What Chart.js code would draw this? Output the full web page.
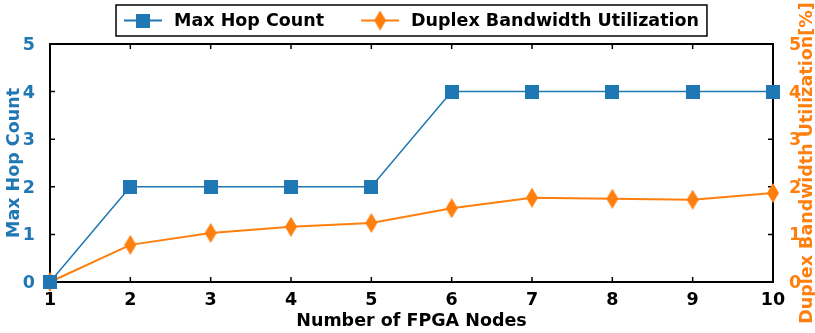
<!DOCTYPE html>
<html>
<head>
<meta charset="utf-8">
<script src="https://cdn.jsdelivr.net/npm/chart.js@4.4.0/dist/chart.umd.min.js"></script>
<style>
  body { margin: 0; background: #fff; }
  #wrap { width: 815px; height: 333px; }
</style>
</head>
<body>
<div id="wrap"><canvas id="hopChart"></canvas></div>
<script>
// data
const nodes = ['1', '2', '3', '4', '5', '6', '7', '8', '9', '10'];
const hopCount = [0, 2, 2, 2, 2, 4, 4, 4, 4, 4];
const bwUtil = [0, 0.78, 1.03, 1.16, 1.24, 1.55, 1.77, 1.75, 1.73, 1.87];
const yTicks = [0, 1, 2, 3, 4, 5];

const BLUE = '#1f77b4';
const ORANGE = '#ff7f0e';
const FONT = 'DejaVu Sans';
const FS = 17.5;

// markers: square and thin diamond (matplotlib 's' and 'd')
function squareMarker(size, color) {
  const c = document.createElement('canvas');
  c.width = size; c.height = size;
  const g = c.getContext('2d');
  g.fillStyle = color;
  g.fillRect(0, 0, size, size);
  return c;
}
function diamondMarker(w, h, color) {
  const c = document.createElement('canvas');
  c.width = w; c.height = h;
  const g = c.getContext('2d');
  g.fillStyle = color;
  g.beginPath();
  g.moveTo(w / 2, 0);
  g.lineTo(w, h / 2);
  g.lineTo(w / 2, h);
  g.lineTo(0, h / 2);
  g.closePath();
  g.fill();
  return c;
}
const sq = squareMarker(14, BLUE);
const dia = diamondMarker(12, 20, ORANGE);

// frame around plot + inward ticks
const framePlugin = {
  id: 'frame',
  beforeDatasetsDraw(chart) {
    const {ctx, chartArea: a, scales} = chart;
    ctx.save();
    ctx.strokeStyle = '#000';
    ctx.lineWidth = 1.5;
    ctx.beginPath();
    scales.x.ticks.forEach((t, i) => {
      const px = scales.x.getPixelForTick(i);
      ctx.moveTo(px, a.bottom); ctx.lineTo(px, a.bottom - 5);
      ctx.moveTo(px, a.top); ctx.lineTo(px, a.top + 5);
    });
    scales.y.ticks.forEach(t => {
      const py = scales.y.getPixelForValue(t.value);
      ctx.moveTo(a.left, py); ctx.lineTo(a.left + 5, py);
    });
    scales.y1.ticks.forEach(t => {
      const py = scales.y1.getPixelForValue(t.value);
      ctx.moveTo(a.right, py); ctx.lineTo(a.right - 5, py);
    });
    ctx.stroke();
    ctx.lineWidth = 2;
    ctx.strokeRect(a.left, a.top, a.right - a.left, a.bottom - a.top);
    ctx.restore();
  }
};

// right axis title reads bottom-to-top, like the left one
const rightTitlePlugin = {
  id: 'rightTitle',
  afterDraw(chart) {
    const {ctx, chartArea: a} = chart;
    ctx.save();
    ctx.font = 'bold ' + FS + 'px "' + FONT + '"';
    ctx.fillStyle = ORANGE;
    ctx.textAlign = 'center';
    ctx.textBaseline = 'middle';
    ctx.translate(807, (a.top + a.bottom) / 2);
    ctx.rotate(-Math.PI / 2);
    ctx.fillText('Duplex Bandwidth Utilization[%]', 0, 0);
    ctx.restore();
  }
};

// boxed legend like matplotlib's
const legendPlugin = {
  id: 'boxLegend',
  afterDraw(chart) {
    const ctx = chart.ctx;
    const items = [
      {label: 'Max Hop Count', color: BLUE, mark: sq},
      {label: 'Duplex Bandwidth Utilization', color: ORANGE, mark: dia}
    ];
    ctx.save();
    ctx.font = 'bold ' + FS + 'px "' + FONT + '"';
    const handle = 38, gapH = 12, gapItem = 37, padX = 8;
    let total = padX * 2;
    items.forEach((it, i) => {
      it.w = ctx.measureText(it.label).width;
      total += handle + gapH + it.w + (i ? gapItem : 0);
    });
    const cx = 411.5, top = 5, h = 31;
    const left = cx - total / 2;
    ctx.fillStyle = '#fff';
    ctx.fillRect(left, top, total, h);
    ctx.strokeStyle = '#000';
    ctx.lineWidth = 1.5;
    ctx.strokeRect(left, top, total, h);
    let x = left + padX;
    const cy = top + h / 2;
    items.forEach((it, i) => {
      if (i) x += gapItem;
      ctx.strokeStyle = it.color;
      ctx.lineWidth = 2;
      ctx.beginPath();
      ctx.moveTo(x, cy); ctx.lineTo(x + handle, cy);
      ctx.stroke();
      ctx.drawImage(it.mark, x + handle / 2 - it.mark.width / 2, cy - it.mark.height / 2);
      x += handle + gapH;
      ctx.fillStyle = '#000';
      ctx.textBaseline = 'middle';
      ctx.fillText(it.label, x, cy + 1);
      x += it.w;
    });
    ctx.restore();
  }
};

const tickFont = {family: FONT, size: FS, weight: 'bold'};
const titleFont = {family: FONT, size: FS, weight: 'bold'};

new Chart(document.getElementById('hopChart').getContext('2d'), {
  type: 'line',
  data: {
    labels: nodes,
    datasets: [{
      label: 'Max Hop Count',
      data: hopCount,
      yAxisID: 'y',
      borderColor: BLUE,
      backgroundColor: BLUE,
      borderWidth: 1.5,
      pointStyle: sq,
      pointRadius: 7,
      tension: 0,
      clip: false
    }, {
      label: 'Duplex Bandwidth Utilization',
      data: bwUtil,
      yAxisID: 'y1',
      borderColor: ORANGE,
      backgroundColor: ORANGE,
      borderWidth: 2,
      pointStyle: dia,
      pointRadius: 10,
      tension: 0,
      clip: false
    }]
  },
  options: {
    responsive: true,
    maintainAspectRatio: false,
    animation: false,
    layout: { padding: { top: 44, left: 0, right: 0, bottom: 0 } },
    plugins: { legend: { display: false }, tooltip: { enabled: false } },
    scales: {
      x: {
        offset: false,
        grid: { display: false },
        border: { display: false },
        ticks: { color: '#000', font: tickFont, padding: 0, maxRotation: 0, autoSkip: false },
        title: { display: true, text: 'Number of FPGA Nodes', color: '#000', font: titleFont, padding: { top: 0, bottom: 1.5 } },
        afterFit: s => { s.height = 51; }
      },
      y: {
        position: 'left',
        min: 0, max: 5,
        afterBuildTicks: s => { s.ticks = yTicks.map(v => ({value: v})); },
        grid: { display: false },
        border: { display: false },
        ticks: { color: BLUE, font: tickFont, padding: 7, labelOffset: 1.5 },
        title: { display: true, text: 'Max Hop Count', color: BLUE, font: titleFont, padding: { top: 3.5, bottom: 0 } },
        afterFit: s => { s.width = 50; }
      },
      y1: {
        position: 'right',
        min: 0, max: 5,
        afterBuildTicks: s => { s.ticks = yTicks.map(v => ({value: v})); },
        grid: { display: false },
        border: { display: false },
        ticks: { color: ORANGE, font: tickFont, padding: 8, labelOffset: 1.5 },
        title: { display: false },
        afterFit: s => { s.width = 42; }
      }
    }
  },
  plugins: [framePlugin, rightTitlePlugin, legendPlugin]
});
</script>
</body>
</html>
